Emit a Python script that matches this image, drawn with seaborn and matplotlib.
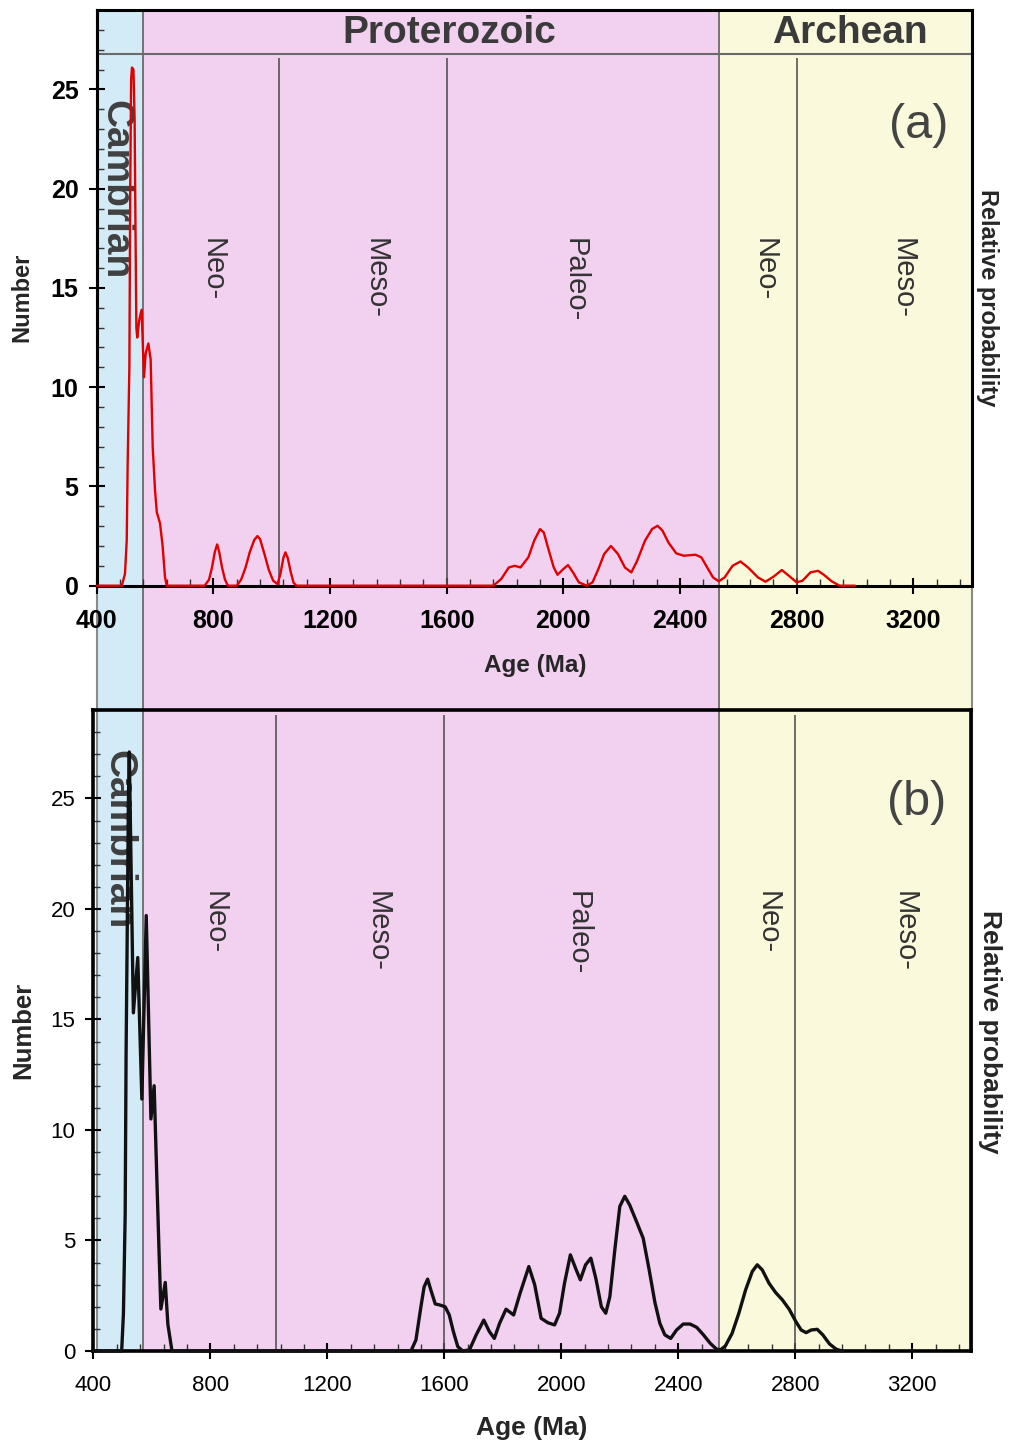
import matplotlib
matplotlib.use('Agg')
import matplotlib.pyplot as plt
from matplotlib.ticker import MultipleLocator
import seaborn as sns

# --- detrital zircon age spectra ---
age_a = [400, 486, 497, 503, 506, 512, 515, 518, 521, 526, 530, 533, 536, 539, 546, 554,
         562, 568, 577, 585, 592, 600, 606, 617, 626, 634, 640,
         770, 785, 795, 805, 813, 820, 830, 840, 850,
         880, 895, 910, 925, 940, 951, 960, 975, 990, 1005, 1020,
         1030, 1040, 1047, 1055, 1065, 1075, 1085,
         1760, 1787, 1813, 1833, 1853, 1880, 1900, 1920, 1933, 1947, 1967, 1980, 2000,
         2016, 2033, 2053, 2080, 2100, 2120, 2140, 2163, 2187, 2211, 2233, 2253, 2280,
         2304, 2323, 2340, 2360, 2387, 2413, 2453, 2473, 2493, 2513, 2533, 2553, 2580,
         2607, 2633, 2667, 2693, 2720, 2749, 2773, 2800, 2820, 2847, 2873, 2893, 2920,
         2947, 3000]
num_a = [0, 0, 0.6, 2.3, 6.0, 11.0, 20.0, 25.5, 26.1, 26.0, 23.5, 18.0, 13.0, 12.5, 13.4, 13.9,
         10.5, 11.7, 12.2, 11.4, 7.0, 4.8, 3.7, 3.15, 2.0, 0.45, 0,
         0, 0.3, 0.9, 1.7, 2.08, 1.7, 0.9, 0.3, 0,
         0, 0.3, 0.9, 1.7, 2.3, 2.5, 2.35, 1.6, 0.8, 0.25, 0.08,
         0.6, 1.4, 1.68, 1.4, 0.7, 0.15, 0,
         0, 0.34, 0.92, 1.0, 0.92, 1.43, 2.27, 2.85, 2.68, 1.93, 0.92, 0.55, 0.84,
         1.04, 0.67, 0.17, 0, 0.17, 0.84, 1.6, 2.0, 1.6, 0.92, 0.67, 1.26, 2.27,
         2.85, 3.02, 2.77, 2.18, 1.63, 1.51, 1.56, 1.43, 0.92, 0.42, 0.22, 0.42, 1.0,
         1.22, 0.92, 0.42, 0.2, 0.45, 0.79, 0.5, 0.17, 0.25, 0.67, 0.75, 0.55, 0.22,
         0, 0]

age_b = [400, 497, 503, 509, 512, 517, 520, 523, 537, 552, 566, 581, 597, 608, 617, 625,
         631, 646, 655, 669,
         1486, 1503, 1520, 1531, 1543, 1554, 1569, 1585, 1603, 1617, 1631, 1646, 1663,
         1686, 1709, 1735, 1754, 1771, 1789, 1811, 1837, 1859, 1889, 1909, 1931, 1954,
         1977, 1994, 2011, 2031, 2051, 2065, 2083, 2101, 2118, 2137, 2152, 2166, 2183,
         2200, 2217, 2234, 2257, 2280, 2300, 2320, 2337, 2354, 2374, 2394, 2417, 2440,
         2463, 2486, 2509, 2530, 2544, 2561, 2584, 2607, 2630, 2653, 2670, 2687, 2710,
         2733, 2756, 2779, 2802, 2820, 2837, 2854, 2875, 2894, 2917, 2940, 2960]
num_b = [0, 0, 1.7, 6.2, 13.3, 20.4, 24.9, 27.1, 15.3, 17.8, 11.4, 19.7, 10.5, 12.0, 7.9, 4.4,
         1.9, 3.1, 1.2, 0,
         0, 0.5, 2.0, 2.9, 3.25, 2.76, 2.13, 2.08, 2.0, 1.63, 0.88, 0.2, 0,
         0.05, 0.73, 1.4, 0.88, 0.57, 1.25, 1.89, 1.63, 2.61, 3.82, 3.0, 1.48, 1.28,
         1.18, 1.71, 3.07, 4.35, 3.67, 3.22, 3.9, 4.2, 3.29, 2.0, 1.71, 2.46, 4.58,
         6.54, 7.0, 6.6, 5.86, 5.1, 3.7, 2.2, 1.25, 0.73, 0.57, 0.95, 1.22, 1.22,
         1.07, 0.73, 0.35, 0.09, 0.05, 0.23, 0.8, 1.71, 2.76, 3.6, 3.9, 3.67, 3.07,
         2.64, 2.31, 1.89, 1.33, 0.95, 0.83, 0.95, 0.98, 0.73, 0.32, 0.08, 0]

xticks = [400, 800, 1200, 1600, 2000, 2400, 2800, 3200]
yticks = [0, 5, 10, 15, 20, 25]

# geological time scale (Ma)
eon_bounds = [400, 560, 2535, 3400]
eon_colors = ['#d3ebf7', '#f2d1f0', '#faf9dc']
era_lines = [1025, 1600, 2800]
era_names = ['Neo-', 'Meso-', 'Paleo-', 'Neo-', 'Meso-']
era_pos_a = [799, 1358, 2040, 2691, 3164]
era_pos_b = [816, 1373, 2057, 2706, 3175]

sns.set_theme(style='ticks')
plt.rcParams['font.family'] = ['Liberation Sans', 'DejaVu Sans']

W, H = 1009, 1443
fig = plt.figure(figsize=(W / 100, H / 100), dpi=100)


def box(l, t, r, b):
    return [l / W, 1 - b / H, (r - l) / W, (b - t) / H]


# coloured time-scale bands behind both panels
bg = fig.add_axes(box(96.7, 10, 971.7, 1351))
bg.set_xlim(400, 3400)
bg.set_ylim(0, 1)
for i, c in enumerate(eon_colors):
    bg.axvspan(eon_bounds[i], eon_bounds[i + 1], color=c, lw=0)
for x in eon_bounds[1:-1]:
    bg.axvline(x, color='#6a6a6a', lw=1.3)
bg.set_xticks([])
bg.set_yticks([])
bg.spines['top'].set_visible(False)
bg.spines['bottom'].set_visible(False)
for s in ['left', 'right']:
    bg.spines[s].set_color('#8a8a8a')
    bg.spines[s].set_linewidth(1.5)


def style_axes(ax, bold, tick_fs, spine_w):
    ax.set_facecolor('none')
    ax.set_xlim(400, 3400)
    ax.set_ylim(0, 29)
    ax.set_xticks(xticks)
    ax.set_yticks(yticks)
    ax.xaxis.set_minor_locator(MultipleLocator(80))
    ax.yaxis.set_minor_locator(MultipleLocator(1))
    ax.tick_params(which='major', direction='inout', length=12, width=1.5,
                   color='black', labelsize=tick_fs, labelcolor='black')
    ax.tick_params(which='minor', direction='in', length=5, width=1, color='#333333')
    ax.tick_params(axis='x', which='major', pad=11)
    ax.tick_params(axis='y', which='major', pad=7)
    fw = 'bold' if bold else 'normal'
    for lab in ax.get_xticklabels() + ax.get_yticklabels():
        lab.set_fontweight(fw)
    for s in ax.spines.values():
        s.set_color('black')
        s.set_linewidth(spine_w)


# ---------------- panel (a) ----------------
ax_a = fig.add_axes(box(96.7, 10, 971.7, 585.7))
sns.lineplot(x=age_a, y=num_a, ax=ax_a, color='#e00000', linewidth=1.7,
             estimator=None, sort=False, zorder=4)
ax_a.lines[-1].set_clip_on(False)
style_axes(ax_a, True, 18, 2.2)
ax_a.axhline(26.8, color='#6a6a6a', lw=1.5, zorder=1)
ax_a.vlines(era_lines, 0, 26.6, color='#555555', lw=1.2, zorder=1)
ax_a.text(1608, 27.85, 'Proterozoic', fontsize=28, fontweight='bold', color='#3a3a3a',
          ha='center', va='center')
ax_a.text(2983, 27.85, 'Archean', fontsize=28, fontweight='bold', color='#3a3a3a',
          ha='center', va='center')
ax_a.text(0.0209, 0.8437, 'Cambrian', transform=ax_a.transAxes, rotation=-90,
          fontsize=28, fontweight='bold', color='#404040', ha='center', va='top')
for name, x in zip(era_names, era_pos_a):
    ax_a.text(x, 17.5, name, rotation=-90, fontsize=21, color='#333333',
              ha='center', va='top')
ax_a.text(3219, 23.2, '(a)', fontsize=35, color='#444444', ha='center', va='center')
ax_a.set_xlabel('Age (Ma)', fontsize=17.5, fontweight='bold')
ax_a.xaxis.set_label_coords(0.501, -0.118)
ax_a.set_ylabel('Number', fontsize=17, fontweight='bold')
ax_a.yaxis.set_label_coords(-0.0728, 0.5015)
ax_a.text(1.0186, 0.5, 'Relative probability', transform=ax_a.transAxes,
          rotation=-90, fontsize=17, fontweight='bold', ha='center', va='center')

# ---------------- panel (b) ----------------
ax_b = fig.add_axes(box(93.3, 710, 970.8, 1351))
sns.lineplot(x=age_b, y=num_b, ax=ax_b, color='#111111', linewidth=2.4,
             estimator=None, sort=False, zorder=4)
ax_b.lines[-1].set_clip_on(False)
style_axes(ax_b, False, 16, 2.6)
ax_b.vlines(era_lines, 0, 28.78, color='#555555', lw=1.2, zorder=1)
ax_b.text(0.0281, 0.9376, 'Cambrian', transform=ax_b.transAxes, rotation=-90,
          fontsize=28, fontweight='bold', color='#404040', ha='center', va='top')
for name, x in zip(era_names, era_pos_b):
    ax_b.text(x, 20.8, name, rotation=-90, fontsize=21, color='#333333',
              ha='center', va='top')
ax_b.text(3216, 24.8, '(b)', fontsize=35, color='#444444', ha='center', va='center')
ax_b.set_xlabel('Age (Ma)', fontsize=19, fontweight='bold')
ax_b.xaxis.set_label_coords(0.5, -0.101)
ax_b.set_ylabel('Number', fontsize=18.5, fontweight='bold')
ax_b.yaxis.set_label_coords(-0.0664, 0.5008)
ax_b.text(1.0219, 0.4977, 'Relative probability', transform=ax_b.transAxes,
          rotation=-90, fontsize=19, fontweight='bold', ha='center', va='center')

fig.savefig('out.png', dpi=100)
